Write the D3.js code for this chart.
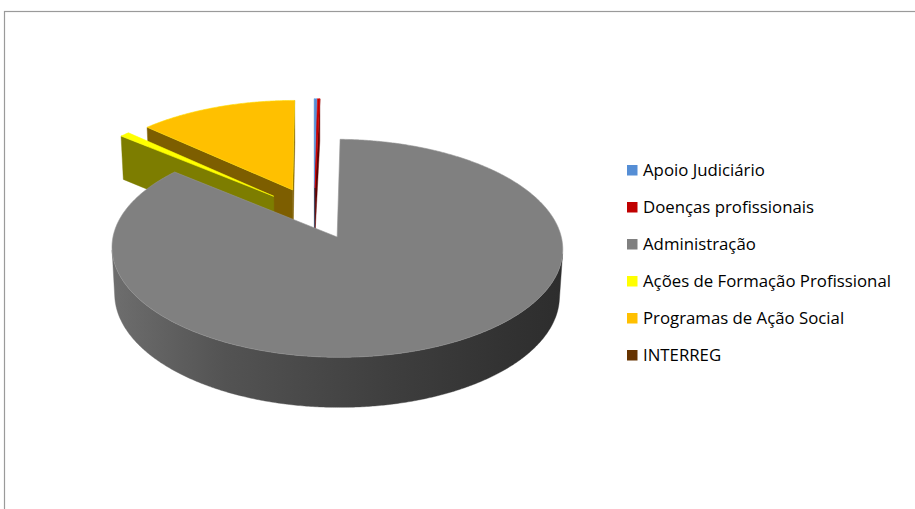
<!DOCTYPE html>
<html>
<head>
<meta charset="utf-8">
<script src="https://cdn.jsdelivr.net/npm/d3@7"></script>
<style>
  html, body { margin: 0; padding: 0; background: #fff; }
  svg { display: block; }
</style>
</head>
<body>
<svg id="chart" width="915" height="509"></svg>
<script>
// Budget split by programme (percent of total)
const categories = [
  "Apoio Judiciário",
  "Doenças profissionais",
  "Administração",
  "Ações de Formação Profissional",
  "Programas de Ação Social",
  "INTERREG"
];
const values = [0.2, 0.2, 85.71, 0.8, 13.09, 0];
const sliceColors = ["#558ED5", "#C00000", "#808080", "#FFFF00", "#FFC000", "#663300"];

const svg = d3.select("#chart");
const defs = svg.append("defs");

// Chart area frame
svg.append("rect")
  .attr("x", 4.5).attr("y", 11.5)
  .attr("width", 1000).attr("height", 1000)
  .attr("fill", "none").attr("stroke", "#9a9a9a").attr("stroke-width", 1.2);

// Perspective camera looking down on the pie (unit radius in plane units)
const view = { cx: 314.1, cy: 213, f: 219, tilt: Math.asin(0.47), dist: 8.74, depth: 0.24, explode: 0.25 };
const sinT = Math.sin(view.tilt), cosT = Math.cos(view.tilt);
const cam = [0, -view.dist * cosT, view.dist * sinT];
const wOf = p => 1 + (p[1] * cosT - p[2] * sinT) / view.dist;
const project = p => {
  const w = wOf(p);
  return [view.cx + view.f * p[0] / w, view.cy - view.f * (p[1] * sinT + p[2] * cosT) / w];
};
const line = d3.line();
const polyPath = pts => line(pts.map(project)) + "Z";
const meanDepth = pts => d3.mean(pts, wOf);

const pie = d3.pie().sort(null).value(d => d).startAngle(0).endAngle(2 * Math.PI);
const arcs = pie(values);

const sideFaces = [];
const topFaces = [];
const zb = -view.depth;
const step = Math.PI / 360;

arcs.forEach((a, i) => {
  const span = a.endAngle - a.startAngle;
  if (span <= 0) return;
  const base = d3.color(sliceColors[i]);
  const m = (a.startAngle + a.endAngle) / 2;
  const ou = view.explode * Math.sin(m), ov = view.explode * Math.cos(m);
  const rim = (t, z) => [ou + Math.sin(t), ov + Math.cos(t), z];
  const apex = z => [ou, ov, z];
  const n = Math.max(2, Math.ceil(span / step));
  const ts = d3.range(n + 1).map(k => a.startAngle + span * k / n);

  // top face
  const topPts = [apex(0), ...ts.map(t => rim(t, 0))];
  topFaces.push({ pts: topPts, fill: base.formatHex(), depth: meanDepth(topPts) });

  // radial cut faces, kept only when they face the camera
  [[a.startAngle, -1], [a.endAngle, 1]].forEach(([t, s]) => {
    const na = t + s * Math.PI / 2;
    const nu = Math.sin(na), nv = Math.cos(na);
    const p = apex(0);
    const dot = nu * (cam[0] - p[0]) + nv * (cam[1] - p[1]);
    if (dot <= 0) return;
    const pts = [apex(0), rim(t, 0), rim(t, zb), apex(zb)];
    sideFaces.push({ pts, fill: base.darker(2).formatHex(), depth: meanDepth(pts) });
  });

  // outer curved wall: visible runs only
  const visible = t => {
    const p = rim(t, 0);
    return Math.sin(t) * (cam[0] - p[0]) + Math.cos(t) * (cam[1] - p[1]) > 0;
  };
  let run = [];
  const flush = () => {
    if (run.length > 1) {
      const pts = [...run.map(t => rim(t, 0)), ...run.slice().reverse().map(t => rim(t, zb))];
      const xs = pts.map(p => project(p)[0]);
      const x0 = d3.min(xs), x1 = d3.max(xs);
      const gid = "wall" + i + "_" + sideFaces.length;
      const g = defs.append("linearGradient").attr("id", gid)
        .attr("gradientUnits", "userSpaceOnUse")
        .attr("x1", x0).attr("x2", x1).attr("y1", 0).attr("y2", 0);
      const shade = d3.scaleLinear().domain([0, 0.25, 0.5, 0.75, 1]).range([0.42, 1.2, 1.72, 2.3, 2.95]);
      d3.range(0, 1.0001, 0.125).forEach(o => {
        g.append("stop").attr("offset", o).attr("stop-color", base.darker(shade(o)).formatHex());
      });
      sideFaces.push({ pts, fill: `url(#${gid})`, depth: meanDepth(pts) });
    }
    run = [];
  };
  ts.forEach(t => { if (visible(t)) run.push(t); else flush(); });
  flush();
});

const pieG = svg.append("g");
sideFaces.sort((p, q) => q.depth - p.depth).forEach(f => {
  pieG.append("path").attr("d", polyPath(f.pts)).attr("fill", f.fill)
    .attr("stroke", f.fill).attr("stroke-width", 0.4).attr("stroke-linejoin", "round");
});
topFaces.sort((p, q) => q.depth - p.depth).forEach(f => {
  pieG.append("path").attr("d", polyPath(f.pts)).attr("fill", f.fill)
    .attr("stroke", d3.color(f.fill).brighter(0.4).formatHex()).attr("stroke-width", 0.6)
    .attr("stroke-linejoin", "round");
});

// Legend
const rowY = d3.scalePoint().domain(categories).range([176, 361]);
const legend = svg.append("g").attr("font-family", "'Open Sans', sans-serif")
  .attr("font-size", "16.8px");
categories.forEach((c, i) => {
  const y = rowY(c);
  legend.append("rect").attr("x", 627).attr("y", y - 11).attr("width", 10.5).attr("height", 10.5)
    .attr("fill", sliceColors[i]);
  legend.append("text").attr("x", 643).attr("y", y).attr("fill", "#000").text(c);
});
</script>
</body>
</html>
